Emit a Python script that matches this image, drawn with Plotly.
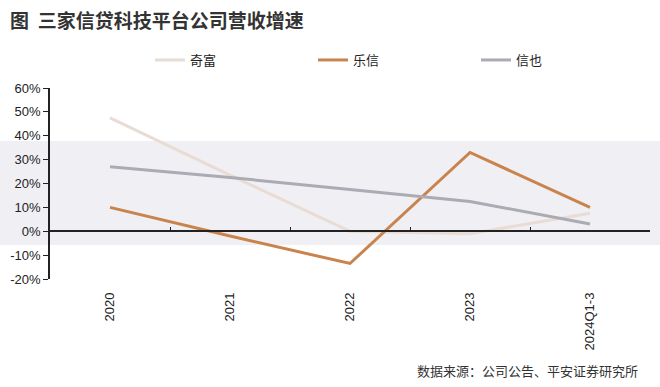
import plotly.graph_objects as go

categories = ["2020", "2021", "2022", "2023", "2024Q1-3"]
qifu = [47.5, 23.5, 0.0, -1.0, 7.5]
lexin = [10.0, -2.0, -13.5, 33.0, 10.0]
xinye = [27.0, 22.5, 17.5, 12.5, 3.0]

series_names = ["奇富", "乐信", "信也"]
series_colors = ["#E8DCD4", "#C9834C", "#ABABB3"]

y_ticks = [-20, -10, 0, 10, 20, 30, 40, 50, 60]
y_labels = [f"{v}%" for v in y_ticks]

W, H = 660, 387
L, R, T, B = 50, 10, 88, 108
PW, PH = W - L - R, H - T - B

fig = go.Figure()
for name, vals, col in zip(series_names, [qifu, lexin, xinye], series_colors):
    fig.add_trace(go.Scatter(x=categories, y=vals, name=name, mode="lines",
                             line=dict(color=col, width=3)))

# invisible trace for the zero-line axis with boundary ticks
fig.add_trace(go.Scatter(x=categories, y=[None] * len(categories), xaxis="x2",
                         showlegend=False, hoverinfo="skip"))

zero_frac = (0 - y_ticks[0]) / (y_ticks[-1] - y_ticks[0])

fig.update_layout(
    width=W, height=H,
    margin=dict(l=L, r=R, t=T, b=B),
    paper_bgcolor="white",
    plot_bgcolor="rgba(0,0,0,0)",
    font=dict(family="Liberation Sans, Arial, sans-serif", size=13, color="#222"),
    showlegend=True,
    legend=dict(orientation="h", x=(150 - L) / PW, xanchor="left",
                y=1 + (T - 60) / PH, yanchor="middle",
                font=dict(family="Noto Sans CJK SC", size=13, color="#222"),
                entrywidth=118, itemwidth=30, tracegroupgap=0, bgcolor="rgba(0,0,0,0)"),
    xaxis=dict(type="category", categoryarray=categories, range=[-0.5, 4.5],
               showline=False, showgrid=False, ticks="", tickangle=-90,
               ticklabelstandoff=10, tickfont=dict(size=13, color="#222")),
    xaxis2=dict(type="category", categoryarray=categories, range=[-0.5, 4.5],
                overlaying="x", anchor="free", position=zero_frac,
                showline=True, linecolor="#222", linewidth=1.5,
                ticks="inside", ticklen=4, tickcolor="#222", tickwidth=1.2,
                tickson="boundaries", showticklabels=False, showgrid=False),
    yaxis=dict(range=[y_ticks[0], y_ticks[-1]], tickvals=y_ticks, ticktext=y_labels,
               showgrid=False, zeroline=False, showline=True, linecolor="#222",
               linewidth=1.5, ticks="outside", ticklen=5, tickcolor="#222",
               tickfont=dict(size=13, color="#222")),
    shapes=[dict(type="rect", xref="paper", yref="paper", layer="below",
                 x0=-L / PW, x1=1 + R / PW,
                 y0=(H - B - 245) / PH, y1=(H - B - 141) / PH,
                 fillcolor="#F0EFF4", line=dict(width=0))],
    annotations=[
        dict(text="<b>图  三家信贷科技平台公司营收增速</b>", xref="paper", yref="paper",
             x=(8 - L) / PW, y=1 + (T - 19) / PH,
             xanchor="left", yanchor="middle", showarrow=False,
             font=dict(family="Noto Sans CJK SC", size=19, color="#333")),
        dict(text="数据来源：公司公告、平安证券研究所", xref="paper", yref="paper",
             x=1 + (R - 20) / PW, y=-(370 - (H - B)) / PH,
             xanchor="right", yanchor="middle", showarrow=False,
             font=dict(family="Noto Sans CJK SC", size=13, color="#333")),
    ],
)

fig.write_html("out.html")
